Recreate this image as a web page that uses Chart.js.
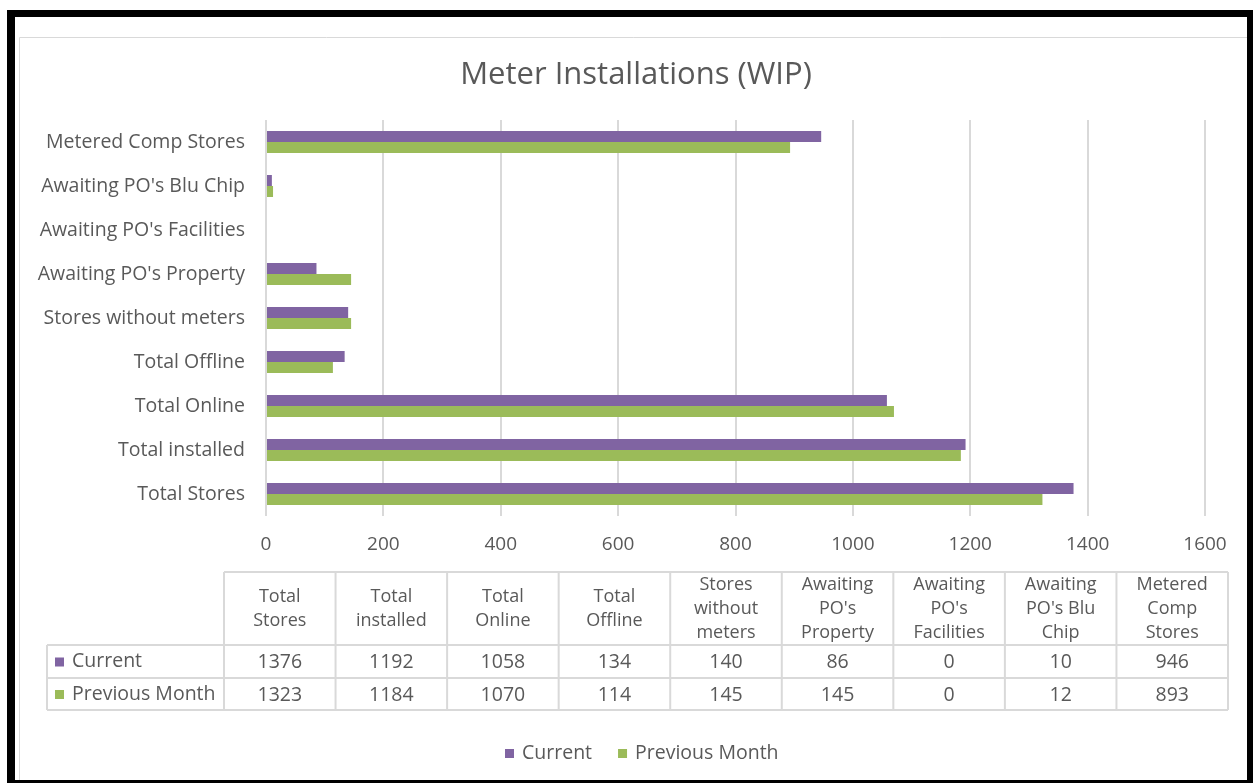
<!DOCTYPE html>
<html>
<head>
<meta charset="utf-8">
<title>Meter Installations (WIP)</title>
<script src="https://cdn.jsdelivr.net/npm/chart.js@4/dist/chart.umd.min.js"></script>
<style>
  html, body { margin: 0; padding: 0; background: #fff; }
  #wrap { width: 1253px; height: 783px; position: relative; }
</style>
</head>
<body>
<div id="wrap"><canvas id="chart" width="1253" height="783"></canvas></div>
<script>
  const CATEGORIES = ["Total Stores", "Total installed", "Total Online", "Total Offline", "Stores without meters",
    "Awaiting PO's Property", "Awaiting PO's Facilities", "Awaiting PO's Blu Chip", "Metered Comp Stores"];
  const CURRENT = [1376, 1192, 1058, 134, 140, 86, 0, 10, 946];
  const PREVIOUS_MONTH = [1323, 1184, 1070, 114, 145, 145, 0, 12, 893];
  const SERIES_NAMES = ["Current", "Previous Month"];
  const X_TICKS = [0, 200, 400, 600, 800, 1000, 1200, 1400, 1600];
  const TITLE = "Meter Installations (WIP)";

  const PURPLE = "#8064A2";
  const GREEN = "#9BBB59";
  const TEXT = "#595959";
  const LINE = "#d9d9d9";
  const FONT = "'Open Sans', 'Noto Sans', sans-serif";

  function wrapText(ctx, text, maxW) {
    const words = text.split(" ");
    const lines = [];
    let cur = "";
    words.forEach(w => {
      const t = cur ? cur + " " + w : w;
      if (cur && ctx.measureText(t).width > maxW) { lines.push(cur); cur = w; }
      else cur = t;
    });
    if (cur) lines.push(cur);
    return lines;
  }

  // frame, title, data table and legend around the plot
  const extras = {
    id: "extras",
    beforeDraw(chart) {
      const ctx = chart.ctx;
      ctx.save();
      ctx.fillStyle = "#000";
      ctx.fillRect(7, 10, 1246, 7);
      ctx.fillRect(7, 10, 8, 773);
      ctx.fillRect(1247, 10, 6, 773);
      ctx.fillRect(7, 780, 1246, 3);
      ctx.strokeStyle = LINE;
      ctx.lineWidth = 1;
      ctx.beginPath();
      ctx.moveTo(19.5, 780); ctx.lineTo(19.5, 37.5); ctx.lineTo(1247, 37.5);
      ctx.stroke();
      ctx.fillStyle = TEXT;
      ctx.font = "31px " + FONT;
      ctx.textAlign = "center";
      ctx.textBaseline = "middle";
      ctx.fillText(TITLE, 636, 75);
      ctx.restore();
    },
    afterDraw(chart) {
      const ctx = chart.ctx;
      const sets = chart.data.datasets;
      const n = chart.data.labels.length;
      const left = 224, right = 1228, keyLeft = 47;
      const colW = (right - left) / n;
      const yTop = 572, yH = 645, yR1 = 678, yR2 = 710;
      ctx.save();
      ctx.strokeStyle = LINE;
      ctx.lineWidth = 2;
      ctx.beginPath();
      ctx.moveTo(left, yTop); ctx.lineTo(right, yTop);
      [yH, yR1, yR2].forEach(y => { ctx.moveTo(keyLeft, y); ctx.lineTo(right, y); });
      ctx.moveTo(keyLeft, yH); ctx.lineTo(keyLeft, yR2);
      for (let i = 0; i <= n; i++) {
        const x = left + i * colW;
        ctx.moveTo(x, yTop); ctx.lineTo(x, yR2);
      }
      ctx.stroke();

      ctx.fillStyle = TEXT;
      ctx.textAlign = "center";
      ctx.textBaseline = "middle";
      chart.data.labels.forEach((lab, i) => {
        const cx = left + (i + 0.5) * colW;
        ctx.font = "18px " + FONT;
        const lines = wrapText(ctx, lab, 90);
        const lh = 24;
        const cy = (yTop + yH) / 2 - (lines.length - 1) * lh / 2;
        lines.forEach((l, j) => ctx.fillText(l, cx, cy + j * lh));
        ctx.font = "19.5px " + FONT;
        sets.forEach((ds, k) => {
          const ry = k === 0 ? (yH + yR1) / 2 : (yR1 + yR2) / 2;
          ctx.fillText(String(ds.data[i]), cx, ry + 1);
        });
      });

      // series keys in the table
      ctx.textAlign = "left";
      ctx.font = "19.5px " + FONT;
      sets.forEach((ds, k) => {
        const ry = k === 0 ? (yH + yR1) / 2 : (yR1 + yR2) / 2;
        ctx.fillStyle = ds.backgroundColor;
        ctx.fillRect(55, ry - 4, 9, 9);
        ctx.fillStyle = TEXT;
        ctx.fillText(ds.label, 72, ry);
      });

      // bottom legend
      let lx = 505;
      const ly = 753;
      sets.forEach(ds => {
        ctx.fillStyle = ds.backgroundColor;
        ctx.fillRect(lx, ly - 4, 9, 9);
        ctx.fillStyle = TEXT;
        ctx.fillText(ds.label, lx + 17, ly);
        lx += 17 + ctx.measureText(ds.label).width + 26;
      });
      ctx.restore();
    }
  };

  new Chart(document.getElementById("chart"), {
    type: "bar",
    data: {
      labels: CATEGORIES,
      datasets: [
        { label: SERIES_NAMES[0], data: CURRENT, backgroundColor: PURPLE },
        { label: SERIES_NAMES[1], data: PREVIOUS_MONTH, backgroundColor: GREEN }
      ]
    },
    options: {
      indexAxis: "y",
      responsive: false,
      animation: false,
      devicePixelRatio: 1,
      datasets: { bar: { categoryPercentage: 0.5, barPercentage: 1.0, borderWidth: 0 } },
      layout: { padding: { left: 20, top: 120, right: 48, bottom: 0 } },
      plugins: {
        legend: { display: false },
        tooltip: { enabled: false },
        title: { display: false }
      },
      scales: {
        x: {
          min: 0, max: 1600,
          afterBuildTicks: s => { s.ticks = X_TICKS.map(v => ({ value: v })); },
          afterFit: s => { s.height = 267; },
          grid: { color: LINE, lineWidth: 2, drawTicks: false },
          border: { display: false },
          ticks: { color: TEXT, padding: 17, font: { family: FONT, size: 19 }, callback: v => String(v) }
        },
        y: {
          reverse: true,
          afterFit: s => { s.width = 246; },
          grid: { display: false },
          border: { display: false },
          ticks: { color: TEXT, padding: 13, font: { family: FONT, size: 19.5 } }
        }
      }
    },
    plugins: [extras]
  });
</script>
</body>
</html>
